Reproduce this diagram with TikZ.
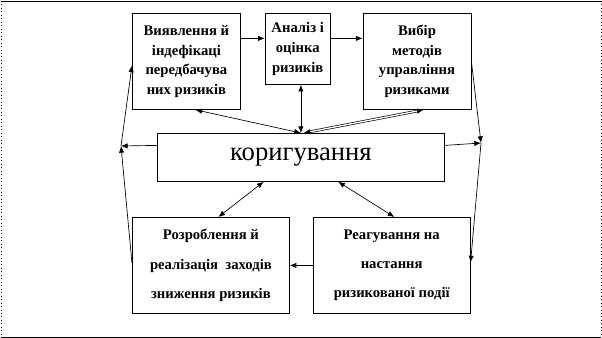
\documentclass[tikz,border=0pt]{standalone}
\usepackage{fontspec}
\setmainfont{Liberation Serif}[BoldFont={Liberation Serif Bold}]
\usetikzlibrary{arrows.meta, positioning}

\begin{document}
\begin{tikzpicture}[
    x=0.75pt, y=-0.75pt,
    riskbox/.style = {rectangle, draw, line width=0.6pt, align=center, inner sep=0pt, font=\bfseries\fontsize{11}{14.8}\selectfont},
    lowbox/.style = {rectangle, draw, line width=0.6pt, align=center, inner sep=0pt, minimum width=117.75pt, minimum height=72pt, font=\bfseries\fontsize{11}{22}\selectfont},
    mainbox/.style = {rectangle, draw, line width=0.6pt, minimum width=215.25pt, minimum height=36pt, font=\fontsize{20}{24}\selectfont},
    link/.style = {line width=0.5pt},
    >={Latex[length=5pt, width=4pt]}]

    \useasboundingbox (0,0) rectangle (602,338);
    \draw[line width=0.6pt] (1,1) -- (601,1);
    \draw[line width=0.6pt] (1,337) -- (601,337);
    \draw[line width=0.6pt, dotted] (1,1) -- (1,337);
    \draw[line width=0.6pt, dotted] (601,1) -- (601,337);

    \node[riskbox, minimum width=81pt, minimum height=72pt, anchor=north west] (A) at (132,13) {Виявлення й\\індефікаці\\передбачува\\них ризиків};
    \node[riskbox, minimum width=48.75pt, minimum height=53.25pt, right=18pt of A.north east, anchor=north west] (B) {Аналіз і\\оцінка\\ризиків};
    \node[riskbox, minimum width=81pt, minimum height=72pt, right=24pt of B.north east, anchor=north west] (C) {Вибір\\методів\\управління\\ризиками};
    \node[mainbox, anchor=north west] (D) at (157,133) {коригування};
    \node[lowbox, anchor=north west] (E) at (132,217) {Розроблення й\\реалізація\ \ заходів\\зниження ризиків};
    \node[lowbox, right=17.25pt of E] (F) {Реагування на\\настання\\ризикованої події};

    \coordinate (lj) at (121,146);
    \coordinate (rj) at (481,143);

    \draw[link, ->] ([yshift=17.25pt]A.east) -- ([yshift=7.875pt]B.west);
    \draw[link, ->] ([yshift=7.875pt]B.east) -- ([yshift=17.25pt]C.west);
    \draw[link, <->] ([xshift=6.75pt]A.south) -- (D.north);
    \draw[link, <->] (B.south -| D.north) -- (D.north);
    \draw[link, double, double distance=1pt, <->] ([xshift=5pt]C.south) -- ([xshift=2pt]D.north);
    \draw[link, <->] ([xshift=-28pt]D.south) -- ([xshift=5.6pt]E.north);
    \draw[link, <->] ([xshift=28pt]D.south) -- ([xshift=2pt]F.north);
    \draw[link, ->] (F.west) -- (E.east);
    \draw[link, ->] ([yshift=9pt]D.west) -- (lj);
    \draw[link, ->] ([yshift=1.5pt]E.west) -- (lj);
    \draw[link, ->] (lj) -- ([yshift=-3pt]A.west);
    \draw[link, ->] (C.east) -- (rj);
    \draw[link, ->] ([yshift=9pt]D.east) -- (rj);
    \draw[link, ->] (rj) -- ([yshift=2.25pt]F.east);

\end{tikzpicture}
\end{document}
